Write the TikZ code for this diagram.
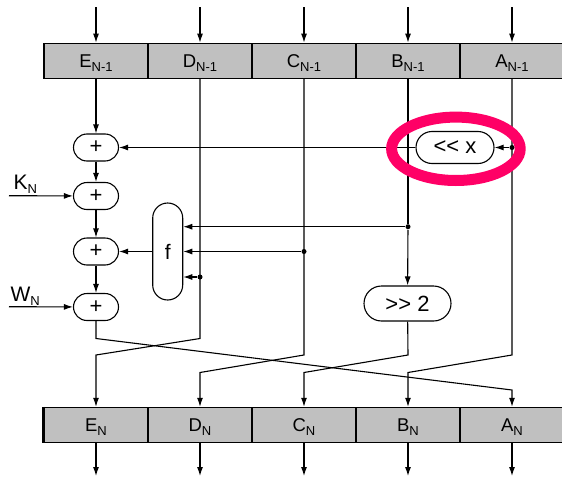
\documentclass[tikz,border=0pt]{standalone}
\usepackage{fontspec}
\setmainfont{Liberation Sans}
\usetikzlibrary{arrows.meta,calc}

\definecolor{regfill}{RGB}{192,192,192}
\definecolor{marker}{RGB}{255,0,102}
\newcommand{\lowtxt}[1]{\raisebox{-4pt}{\fontsize{13}{14}\selectfont #1}}

\begin{document}
\begin{tikzpicture}[x=1pt,y=-1pt,line width=1.1pt,
	>={Latex[length=9pt,width=6pt]},
	reg/.style={draw,line width=1.4pt,fill=regfill,minimum width=104pt,
		minimum height=35pt,inner sep=0pt,text depth=0pt,
		font=\fontsize{18.5}{20}\selectfont},
	op/.style={draw,rounded corners=13.5pt,minimum width=45pt,
		minimum height=27pt,inner sep=0pt,font=\fontsize{22}{24}\selectfont},
	dot/.style={circle,fill,inner sep=0pt,minimum size=5pt}]

\useasboundingbox (0,0) rectangle (562,479);

% levels of the crossing wires
\def\ya{338.5}
\def\yb{355}
\def\yc{372.5}
\def\yd{390}

% registers
\foreach \r [count=\i] in {E,D,C,B,A}{
	\node[reg] (old\r) at ({96+104*(\i-1)},60.8) {\r\lowtxt{N-1}};
	\node[reg] (new\r) at ({96+104*(\i-1)},425) {\r\lowtxt{N}};
	\coordinate (in\r) at ({96+104*(\i-1)},7);
	\coordinate (out\r) at ({96+104*(\i-1)},476);
	\draw[->] (in\r) -- (old\r);
	\draw[->] (new\r) -- (out\r);
}
\draw[line width=2.5pt] (newE.north west) -- (newE.south west);

% adders
\node[op] (p1) at (96,147.5) {+};
\node[op] (p2) at (96,196) {+};
\node[op] (p3) at (96,251.5) {+};
\node[op] (p4) at (96,307) {+};
\node[op,minimum width=30pt,minimum height=97pt,rounded corners=15pt,
	font=\fontsize{21}{23}\selectfont] (f) at (167.7,251.5) {f};
\node[op,minimum width=78pt,minimum height=32pt,rounded corners=16pt] (shl)
	at (455,147.5) {<{}< x};
\node[op,minimum width=87pt,minimum height=35pt,rounded corners=17.5pt] (shr)
	at (407.5,303.5) {>{}> 2};

\node[dot] (dA) at (512,147.5) {};
\node[dot] (dB) at (408,226.7) {};
\node[dot] (dC) at (304,251.5) {};
\node[dot] (dD) at (200,277) {};

% constants
\coordinate (k) at (9,195.7);
\coordinate (w) at (9,306.7);
\node[anchor=base west,inner sep=0pt,font=\fontsize{21}{23}\selectfont]
	(kn) at (13,189) {K\lowtxt{N}};
\node[anchor=base west,inner sep=0pt,font=\fontsize{21}{23}\selectfont]
	(wn) at (10,301.7) {W\lowtxt{N}};
\draw[->] (k) -- (p2);
\draw[->] (w) -- (p4);

% E chain
\draw[->] (oldE) -- (p1);
\draw[->] (p1) -- (p2);
\draw[->] (p2) -- (p3);
\draw[->] (p3) -- (p4);
\draw[->] (p4) -- (96,\ya) -- (512,\yd) -- (newA);

% rotation of A
\draw[->] (dA) -- (shl);
\draw[->] (shl) -- (p1);

% f inputs
\draw[->] (dB) -- (dB -| f.east);
\draw[->] (dC) -- (dC -| f.east);
\draw[->] (dD) -- (dD -| f.east);
\draw[->] (f.west) -- (f.west -| p3.east);

% vertical wires
\draw[->] (oldD) -- (200,\ya) -- (96,\yb) -- (newE);
\draw[->] (oldC) -- (304,\yb) -- (200,\yc) -- (newD);
\draw (oldB) -- (dB);
\draw[->] (dB) -- (shr);
\draw[->] (shr) -- (408,\yb) -- (304,\yc) -- (newC);
\draw[->] (oldA) -- (512,\yb) -- (408,\yc) -- (newB);

\draw[color=marker,line width=11pt] (455.9,148.8)
	ellipse[x radius=64.3pt,y radius=31.7pt];

\end{tikzpicture}
\end{document}
